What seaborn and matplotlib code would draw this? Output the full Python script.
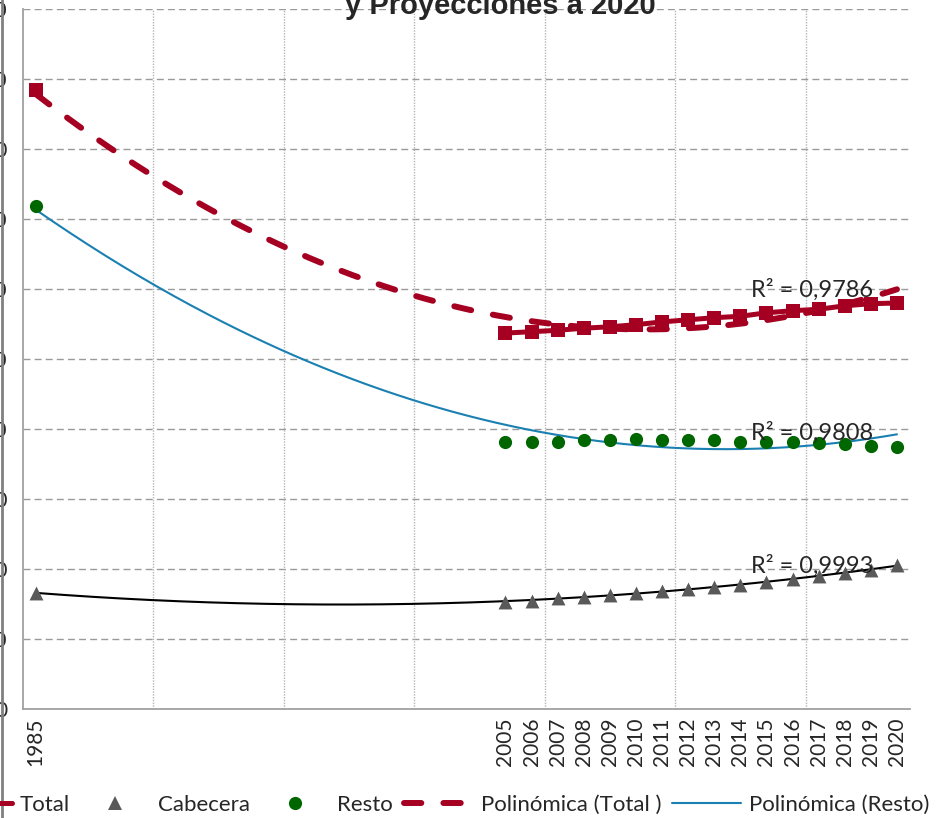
import numpy as np
import pandas as pd
import matplotlib
matplotlib.use("Agg")
import matplotlib.pyplot as plt
from matplotlib.lines import Line2D
import seaborn as sns

# ---------------- data ----------------
categories = ["1985"] + [""] * 17 + [str(y) for y in range(2005, 2021)]
data_years = ["1985"] + [str(y) for y in range(2005, 2021)]
total = [8840, 5370, 5390, 5410, 5440, 5460, 5490, 5530, 5560, 5590, 5610,
         5660, 5690, 5710, 5760, 5790, 5800]
cabecera = [1660, 1530, 1540, 1590, 1600, 1630, 1660, 1690, 1710, 1740, 1770,
            1810, 1860, 1900, 1940, 1990, 2060]
resto = [7190, 3820, 3820, 3820, 3840, 3850, 3860, 3850, 3840, 3840, 3820,
         3820, 3810, 3800, 3780, 3760, 3740]
r2_labels = ["R² = 0,9786", "R² = 0,9808", "R² = 0,9993"]
y_ticks = list(range(0, 10001, 1000))
title_text = "y Proyecciones a 2020"

RED = "#A50021"
GREEN = "#006600"
GRAY = "#595959"
BLUE = "#1a80b2"

cat_pos = {c: i for i, c in enumerate(categories) if c}
x = np.array([cat_pos[y] for y in data_years], dtype=float)
df = pd.DataFrame({"x": x, "Total": total, "Cabecera": cabecera, "Resto": resto})

sns.set_style("white")
plt.rcParams["font.family"] = ["Lato", "DejaVu Sans"]

fig = plt.figure(figsize=(9.38, 8.18), dpi=100)
W, H = 938, 818
ax = fig.add_axes([22.5 / W, 1 - 709 / H, (910 - 22.5) / W, (709 - 9) / H])
ax.set_xlim(-0.5, len(categories) - 0.5)
ax.set_ylim(0, 10000)

# grid
for yv in y_ticks[1:]:
    ax.axhline(yv, color="#9a9a9a", lw=1.0, ls=(0, (5, 3)), zorder=0)
bounds = np.arange(-0.5, len(categories) - 0.5, 5)
for bx in bounds[1:]:
    ax.axvline(bx, color="#b5b5b5", lw=1.0, ls=(0, (1, 1)), zorder=0)

# trend lines (2nd-degree polynomial fits)
xf = np.linspace(x.min(), x.max(), 300)
def fit(vals):
    c = np.polyfit(x, vals, 2)
    return np.polyval(c, xf)

DASH = (0, (2.9, 3.7))
ax.plot(xf, fit(total), color=RED, lw=4.3, ls=DASH,
        dash_capstyle="round", zorder=2)
ax.plot(xf, fit(resto), color=BLUE, lw=1.5, zorder=2)
ax.plot(xf, fit(cabecera), color="black", lw=1.5, zorder=2)

# series
d_later = df.iloc[1:]
sns.lineplot(data=d_later, x="x", y="Total", ax=ax, color=RED, lw=3.6,
             marker="s", markersize=10.5, markeredgewidth=0, zorder=3,
             legend=False)
sns.scatterplot(data=df.iloc[:1], x="x", y="Total", ax=ax, color=RED,
                marker="s", s=10.5 ** 2, linewidth=0, zorder=3, legend=False)
sns.scatterplot(data=df, x="x", y="Cabecera", ax=ax, color=GRAY, marker="^",
                s=10 ** 2, linewidth=0, zorder=3, legend=False)
sns.scatterplot(data=df, x="x", y="Resto", ax=ax, color=GREEN, marker="o",
                s=9.5 ** 2, linewidth=0, zorder=3, legend=False)

# R² labels
ax.text(27.4, 5990, r2_labels[0], fontsize=17, va="center", ha="left", zorder=4)
ax.text(27.4, 3950, r2_labels[1], fontsize=17, va="center", ha="left", zorder=4)
ax.text(27.4, 2050, r2_labels[2], fontsize=17, va="center", ha="left", zorder=4)

# axes styling
for s in ["top", "right"]:
    ax.spines[s].set_visible(False)
for s in ["left", "bottom"]:
    ax.spines[s].set_color("#a0a0a0")
    ax.spines[s].set_linewidth(1.3)
ax.set_yticks(y_ticks)
ax.set_yticklabels([str(v) for v in y_ticks])
ax.tick_params(axis="y", direction="out", length=5, width=1.2, color="#a0a0a0",
               pad=6, labelsize=15)
ax.set_xticks(bounds)
ax.set_xticklabels([""] * len(bounds))
ax.tick_params(axis="x", which="major", direction="out", length=5, width=1.2,
               color="#a0a0a0")
ax.set_xticks(x, minor=True)
ax.set_xticklabels(data_years, minor=True, rotation=90, fontsize=15)
ax.tick_params(axis="x", which="minor", length=0, pad=6)
ax.set_xlabel("")
ax.set_ylabel("")
ax.grid(False)

# title (partially cut at top)
fig.text(500 / W, 1 - 14 / H, title_text, ha="center", va="baseline",
         fontsize=21, fontweight="bold", family="Liberation Sans")

# chart border line at left
fig.add_artist(Line2D([1.5 / W, 1.5 / W], [0, 1], color="#808080", lw=2,
                      transform=fig.transFigure))

# legend
handles = [
    Line2D([], [], color=RED, lw=3.6, marker="s", markersize=10.5, markeredgewidth=0),
    Line2D([], [], color=GRAY, lw=0, marker="^", markersize=10, markeredgewidth=0),
    Line2D([], [], color=GREEN, lw=0, marker="o", markersize=9.5, markeredgewidth=0),
    Line2D([], [], color=RED, lw=4.3, ls=DASH, dash_capstyle="round"),
    Line2D([], [], color=BLUE, lw=1.5),
]
labels = ["Total", "Cabecera", "Resto", "Polinómica (Total )", "Polinómica (Resto)"]
fig.legend(handles, labels, loc="center left", bbox_to_anchor=(-57 / W, 1 - 805 / H),
           ncol=5, frameon=False, fontsize=16, handlelength=3.1, handletextpad=0.35,
           columnspacing=0.5, borderpad=0, borderaxespad=0)

fig.savefig("out.png", dpi=100)
